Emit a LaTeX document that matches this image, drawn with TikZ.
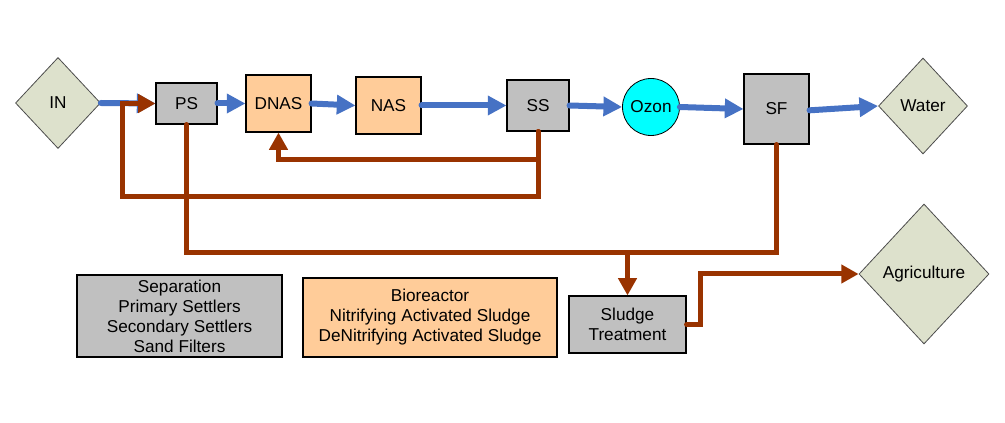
\documentclass[tikz,border=0pt]{standalone}
\usepackage{fontspec}
\setmainfont{Liberation Sans}
\usepackage{xcolor}
\usepackage{tikz}
\usetikzlibrary{positioning,calc}
\usetikzlibrary{shapes.geometric}
\usetikzlibrary{arrows.meta}
\definecolor{flowblue}{RGB}{70,114,196}
\definecolor{sludgebrown}{RGB}{153,51,0}
\definecolor{unitgray}{RGB}{192,192,192}
\definecolor{unitpeach}{RGB}{255,204,153}
\definecolor{endpoint}{RGB}{221,225,204}
\definecolor{ozonecyan}{RGB}{0,255,255}

\begin{document}
\begin{tikzpicture}[x=0.75pt,y=-0.75pt,
        every node/.style={font=\fontsize{12.9}{15}\selectfont, align=center, inner sep=0pt},
        unit/.style={draw=black, line width=0.8pt, rectangle},
        sep/.style={unit, fill=unitgray},
        bio/.style={unit, fill=unitpeach},
        ends/.style={draw=black!70, line width=0.6pt, diamond, fill=endpoint},
        water/.style={draw=flowblue, line width=4.5pt, line cap=round, -{Triangle[length=14pt,width=14pt]}},
        sludge/.style={draw=sludgebrown, line width=3.75pt, line cap=round},
        tip/.style={-{Triangle[length=13pt,width=13.5pt]}}]
        \useasboundingbox (0,0) rectangle (1005,423);
        % main line
        \node[ends, minimum width=63.75pt, minimum height=68.25pt] (IN) at (58,103){IN};
        \node[sep, minimum width=45.75pt, minimum height=30.75pt] (PS) at (186.5,103.5){PS};
        \node[bio, minimum width=48.75pt, minimum height=42.75pt] (DNAS) at (278.5,103.5){DNAS};
        \node[bio, minimum width=48.75pt, minimum height=42.75pt] (NAS) at (388.5,105.5){NAS};
        \node[sep, minimum width=46.5pt, minimum height=38.25pt] (SS) at (538,105.5){SS};
        \node[circle, draw=black, line width=0.6pt, fill=ozonecyan, minimum size=42.75pt] (Ozon) at (651,107){Ozon};
        \node[sep, minimum width=48.75pt, minimum height=52.5pt] (SF) at (776.5,109){SF};
        \node[ends, minimum width=66.75pt, minimum height=72pt] (Water) at (923,106){Water};
        % sludge side
        \node[sep, minimum width=87.75pt, minimum height=42.75pt] (ST) at (627.5,324.5){Sludge\\Treatment};
        \node[ends, minimum width=97.5pt, minimum height=105pt] (AG) at (924,274){Agriculture};
        % legend
        \node[sep, minimum width=153.75pt, minimum height=61.5pt] (legsep) at (179.5,316){Separation\\Primary Settlers\\Secondary Settlers\\Sand Filters};
        \node[bio, minimum width=190.5pt, minimum height=59.25pt] (legbio) at (430,317.5){Bioreactor\\Nitrifying Activated Sludge\\DeNitrifying Activated Sludge};

        \draw[water] (IN.east) -- (PS.west);
        \draw[water] (PS.east) -- (DNAS.west);
        \draw[water] (DNAS.east) -- (NAS.west);
        \draw[water] (NAS.east) -- (SS.west);
        \draw[water] (SS.east) -- (Ozon.west);
        \draw[water] (Ozon.east) -- (SF.west);
        \draw[water] ([yshift=-1pt]SF.east) -- (Water.west);

        \coordinate (ret1) at (278.5,160);
        \coordinate (ret2) at (122,197);
        \coordinate (bus) at (627.5,253);
        \draw[sludge, tip] (SS.south) |- (ret1) -- (DNAS.south);
        \draw[sludge, tip] (SS.south) |- (ret2) |- (PS.west);
        \draw[sludge] (PS.south) |- (bus) -| (SF.south);
        \draw[sludge, tip] (bus) -- (ST.north);
        \draw[sludge, tip] (ST.east) -- ++(14,0) |- (AG.west);
        \end{tikzpicture}
\end{document}
